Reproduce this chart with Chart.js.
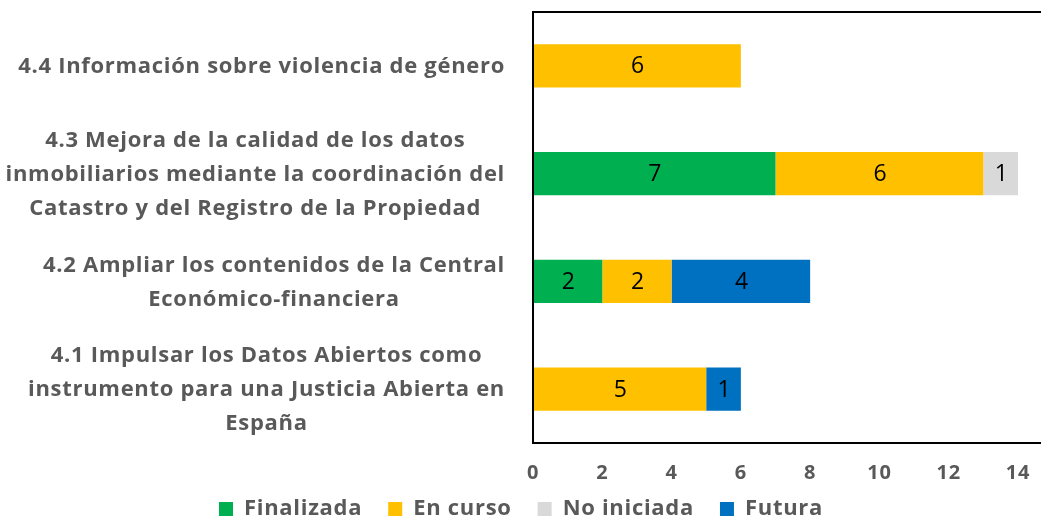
<!DOCTYPE html>
<html>
<head>
<meta charset="utf-8">
<script src="https://cdn.jsdelivr.net/npm/chart.js@4/dist/chart.umd.min.js"></script>
<style>
html,body{margin:0;padding:0;background:#fff;overflow:hidden;}
</style>
</head>
<body>
<canvas id="c" width="1041" height="517"></canvas>
<script>
const categories = [
  ["4.4 Información sobre violencia de género"],
  ["4.3 Mejora de la calidad de los datos", "inmobiliarios mediante la coordinación del", "Catastro y del Registro de la Propiedad"],
  ["4.2 Ampliar los contenidos de la Central", "Económico-financiera"],
  ["4.1 Impulsar los Datos Abiertos como", "instrumento para una Justicia Abierta en", "España"]
];
const finalizada = [0, 7, 2, 0];
const enCurso = [6, 6, 2, 5];
const noIniciada = [0, 1, 0, 0];
const futura = [0, 0, 4, 1];
const xTicks = [0, 2, 4, 6, 8, 10, 12, 14];

const FONT = "'Open Sans', 'Liberation Sans', Arial, sans-serif";
const GREY = '#595959';

const spacing = {
  id: 'spacing',
  beforeUpdate(chart) { chart.ctx.letterSpacing = '0.7px'; },
  beforeDraw(chart) { chart.ctx.letterSpacing = '0.7px'; }
};

const frame = {
  id: 'frame',
  afterDraw(chart) {
    const {ctx, chartArea: a} = chart;
    ctx.save();
    ctx.strokeStyle = '#000';
    ctx.lineWidth = 2;
    ctx.beginPath();
    ctx.moveTo(chart.width, a.top); ctx.lineTo(a.left, a.top);
    ctx.lineTo(a.left, a.bottom); ctx.lineTo(chart.width, a.bottom);
    ctx.stroke();
    ctx.restore();
  }
};

const valueLabels = {
  id: 'valueLabels',
  afterDatasetsDraw(chart) {
    const ctx = chart.ctx;
    ctx.save();
    ctx.font = "23px " + FONT;
    ctx.fillStyle = '#000';
    ctx.textAlign = 'center';
    ctx.textBaseline = 'middle';
    chart.data.datasets.forEach((ds, di) => {
      const meta = chart.getDatasetMeta(di);
      meta.data.forEach((bar, i) => {
        const v = ds.data[i];
        if (!v) return;
        const cx = (bar.x + bar.base) / 2;
        ctx.fillText(String(v), cx + 1, bar.y + 1);
      });
    });
    ctx.restore();
  }
};

const catLabels = {
  id: 'catLabels',
  afterDraw(chart) {
    const ctx = chart.ctx;
    const y = chart.scales.y;
    const right = chart.chartArea.left - 28;
    const lh = 34;
    ctx.save();
    ctx.font = "bold 22px " + FONT;
    ctx.fillStyle = GREY;
    ctx.textAlign = 'center';
    ctx.textBaseline = 'middle';
    categories.forEach((lines, i) => {
      const cy = y.getPixelForTick(i);
      const w = Math.max(...lines.map(l => ctx.measureText(l).width));
      const cx = right - w / 2;
      const top = cy - (lines.length - 1) * lh / 2;
      lines.forEach((l, k) => ctx.fillText(l, cx, top + k * lh + 1));
    });
    ctx.restore();
  }
};

new Chart(document.getElementById('c'), {
  type: 'bar',
  data: {
    labels: categories,
    datasets: [
      {label: 'Finalizada', data: finalizada, backgroundColor: '#00B050'},
      {label: 'En curso', data: enCurso, backgroundColor: '#FFC000'},
      {label: 'No iniciada', data: noIniciada, backgroundColor: '#D9D9D9'},
      {label: 'Futura', data: futura, backgroundColor: '#0070C0'}
    ]
  },
  options: {
    indexAxis: 'y',
    responsive: false,
    animation: false,
    categoryPercentage: 1,
    barPercentage: 0.4,
    layout: {padding: {top: 12, right: 23, left: 24, bottom: -13}},
    plugins: {
      tooltip: {enabled: false},
      legend: {
        position: 'bottom',
        labels: {
          boxWidth: 14, boxHeight: 14,
          padding: 26,
          color: GREY,
          font: {family: FONT, size: 22, weight: 'bold'}
        }
      }
    },
    scales: {
      x: {
        stacked: true,
        min: 0, max: 14,
        afterBuildTicks(s) { s.ticks = xTicks.map(v => ({value: v})); },
        grid: {display: false},
        border: {display: false},
        ticks: {color: GREY, padding: 10, font: {family: FONT, size: 20, weight: 'bold'}},
        afterFit(s) { s.height = 29; s._computeLabelArea = () => undefined; }
      },
      y: {
        stacked: true,
        grid: {display: false},
        border: {display: false},
        ticks: {display: false},
        afterFit(s) { s.width = 509; }
      }
    }
  },
  plugins: [spacing, frame, valueLabels, catLabels]
});
</script>
</body>
</html>
